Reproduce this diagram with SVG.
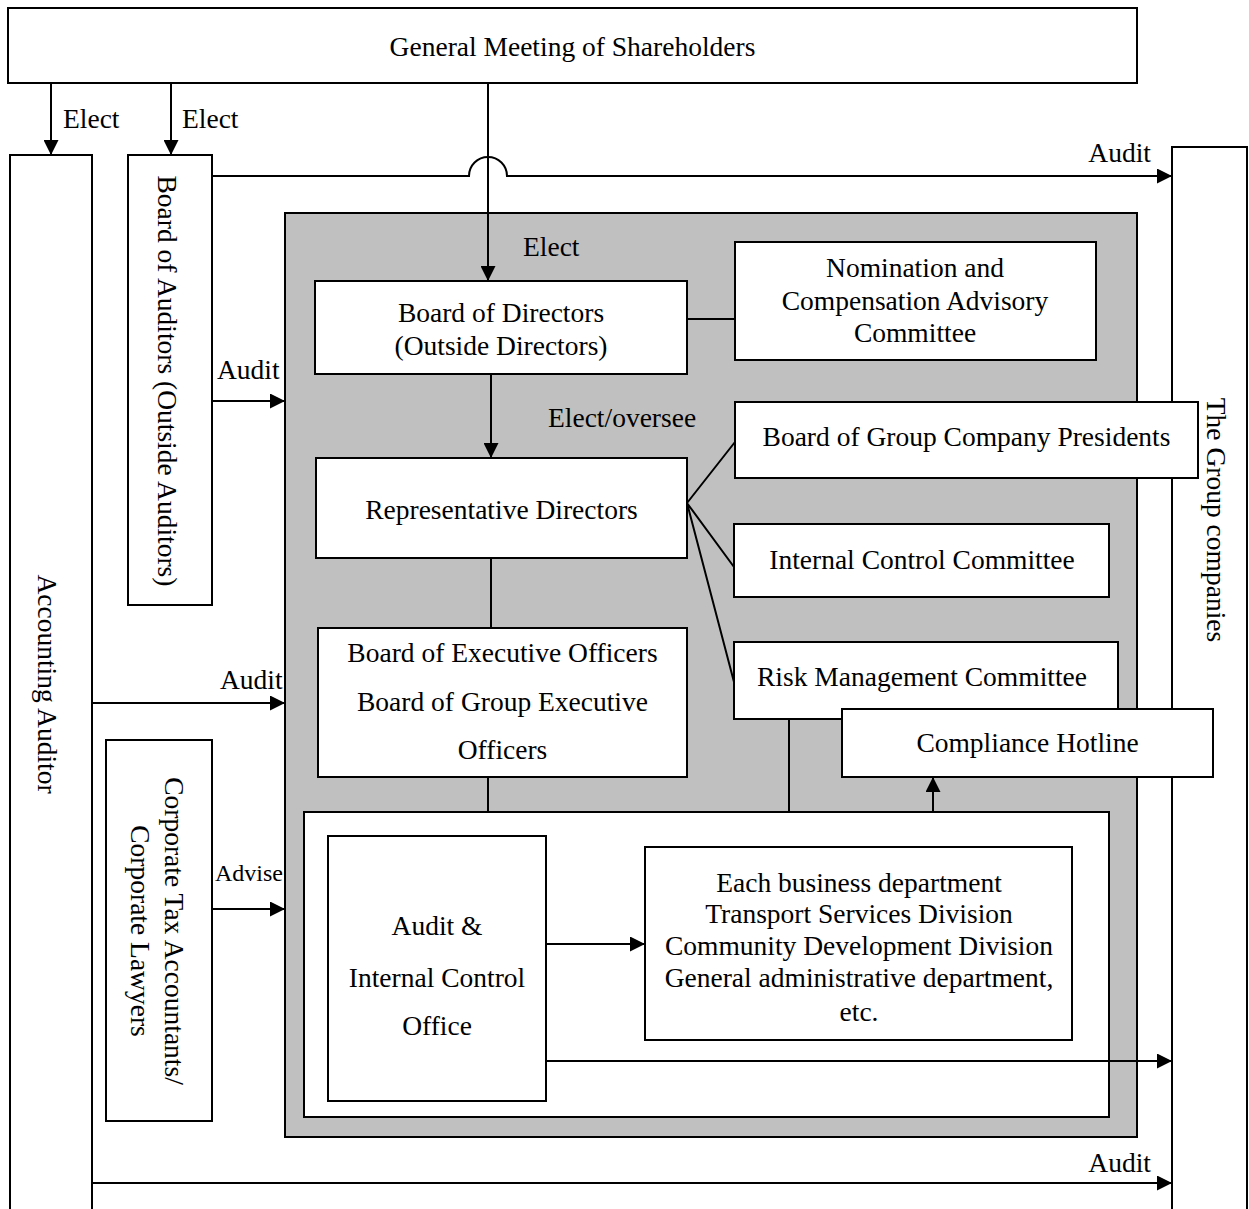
<svg xmlns="http://www.w3.org/2000/svg" width="1249" height="1209" viewBox="0 0 1249 1209">
<style>
text{font-family:"Liberation Serif","Times New Roman",serif;font-size:27.5px;fill:#000}
.c{text-anchor:middle}
.e{text-anchor:end}
.box{fill:#fff;stroke:#000;stroke-width:2}
.gray{fill:#c0c0c0;stroke:#000;stroke-width:2}
.ln{fill:none;stroke:#000;stroke-width:2}
.ar{fill:none;stroke:#000;stroke-width:2;marker-end:url(#ah)}
.sm{font-size:24px}
</style>
<defs>
<marker id="ah" markerUnits="userSpaceOnUse" markerWidth="15" markerHeight="15" refX="15" refY="7.5" orient="auto">
<path d="M0,0 L15,7.5 L0,15 z" fill="#000"/>
</marker>
</defs>
<rect width="1249" height="1209" fill="#fff"/>

<g id="group-companies">
<rect class="box" x="1172" y="147" width="75" height="1070"/>
<text class="c" transform="translate(1216,520) rotate(90)" x="0" y="9">The Group companies</text>
</g>
<g id="accounting-auditor">
<rect class="box" x="10" y="155" width="82" height="1062"/>
<text class="c" transform="translate(47,684) rotate(90)" x="0" y="9">Accounting Auditor</text>
</g>
<g id="general-meeting">
<rect class="box" x="8" y="8" width="1129" height="75"/>
<text class="c" x="572.5" y="56">General Meeting of Shareholders</text>
</g>
<g id="board-of-auditors">
<rect class="box" x="128" y="155" width="84" height="450"/>
<text class="c" transform="translate(167,381) rotate(90)" x="0" y="9">Board of Auditors (Outside Auditors)</text>
</g>
<g id="tax-lawyers">
<rect class="box" x="106" y="740" width="106" height="381"/>
<text class="c" transform="translate(174,931) rotate(90)" x="0" y="9">Corporate Tax Accountants/</text>
<text class="c" transform="translate(140,931) rotate(90)" x="0" y="9">Corporate Lawyers</text>
</g>
<g id="company">
<rect class="gray" x="285" y="213" width="852" height="924"/>
</g>
<g id="inner">
<rect class="box" x="304" y="812" width="805" height="305"/>
</g>

<g id="connectors">
<path class="ar" d="M51,83 V155"/>
<path class="ar" d="M171,83 V155"/>
<path class="ar" d="M488,83 V281"/>
<path class="ar" d="M212,176 H469 A19,19 0 0 1 507,176 H1172"/>
<path class="ar" d="M212,401 H285"/>
<path class="ar" d="M92,703 H285"/>
<path class="ar" d="M212,909 H285"/>
<path class="ln" d="M687,319 H735"/>
<path class="ar" d="M491,374 V458"/>
<path class="ln" d="M687,503 L735,442 M687,503 L734,567 M687,503 L734,682"/>
<path class="ln" d="M491,558 V628"/>
<path class="ln" d="M488,777 V812"/>
<path class="ln" d="M789,719 V812"/>
<path class="ar" d="M933,812 V777"/>
<path class="ar" d="M546,944 H645"/>
<path class="ar" d="M546,1061 H1172"/>
<path class="ar" d="M92,1183 H1172"/>
<text x="63" y="128">Elect</text>
<text x="182" y="128">Elect</text>
<text class="e" x="1151" y="162">Audit</text>
<text x="523" y="256">Elect</text>
<text x="217" y="379">Audit</text>
<text x="548" y="427">Elect/oversee</text>
<text x="220" y="689">Audit</text>
<text class="sm" x="215" y="881">Advise</text>
<text class="e" x="1151" y="1172">Audit</text>
</g>

<g id="board-of-directors">
<rect class="box" x="315" y="281" width="372" height="93"/>
<text class="c" x="501" y="322">Board of Directors</text>
<text class="c" x="501" y="355">(Outside Directors)</text>
</g>
<g id="nomination">
<rect class="box" x="735" y="242" width="361" height="118"/>
<text class="c" x="915" y="277">Nomination and</text>
<text class="c" x="915" y="310">Compensation Advisory</text>
<text class="c" x="915" y="342">Committee</text>
</g>
<g id="representative-directors">
<rect class="box" x="316" y="458" width="371" height="100"/>
<text class="c" x="501.5" y="519">Representative Directors</text>
</g>
<g id="internal-control-committee">
<rect class="box" x="734" y="524" width="375" height="73"/>
<text class="c" x="922" y="569">Internal Control Committee</text>
</g>
<g id="risk-management">
<rect class="box" x="734" y="642" width="384" height="77"/>
<text class="c" x="922" y="686">Risk Management Committee</text>
</g>
<g id="executive-officers">
<rect class="box" x="318" y="628" width="369" height="149"/>
<text class="c" x="502.5" y="662">Board of Executive Officers</text>
<text class="c" x="502.5" y="711">Board of Group Executive</text>
<text class="c" x="502.5" y="759">Officers</text>
</g>
<g id="audit-office">
<rect class="box" x="328" y="836" width="218" height="265"/>
<text class="c" x="437" y="935">Audit &amp;</text>
<text class="c" x="437" y="987">Internal Control</text>
<text class="c" x="437" y="1035">Office</text>
</g>
<g id="business-departments">
<rect class="box" x="645" y="847" width="427" height="193"/>
<text class="c" x="859" y="892">Each business department</text>
<text class="c" x="859" y="923">Transport Services Division</text>
<text class="c" x="859" y="955">Community Development Division</text>
<text class="c" x="859" y="987">General administrative department,</text>
<text class="c" x="859" y="1021">etc.</text>
</g>
<g id="group-presidents">
<rect class="box" x="735" y="402" width="463" height="76"/>
<text class="c" x="966.5" y="446">Board of Group Company Presidents</text>
</g>
<g id="compliance-hotline">
<rect class="box" x="842" y="709" width="371" height="68"/>
<text class="c" x="1027.5" y="752">Compliance Hotline</text>
</g>
</svg>
